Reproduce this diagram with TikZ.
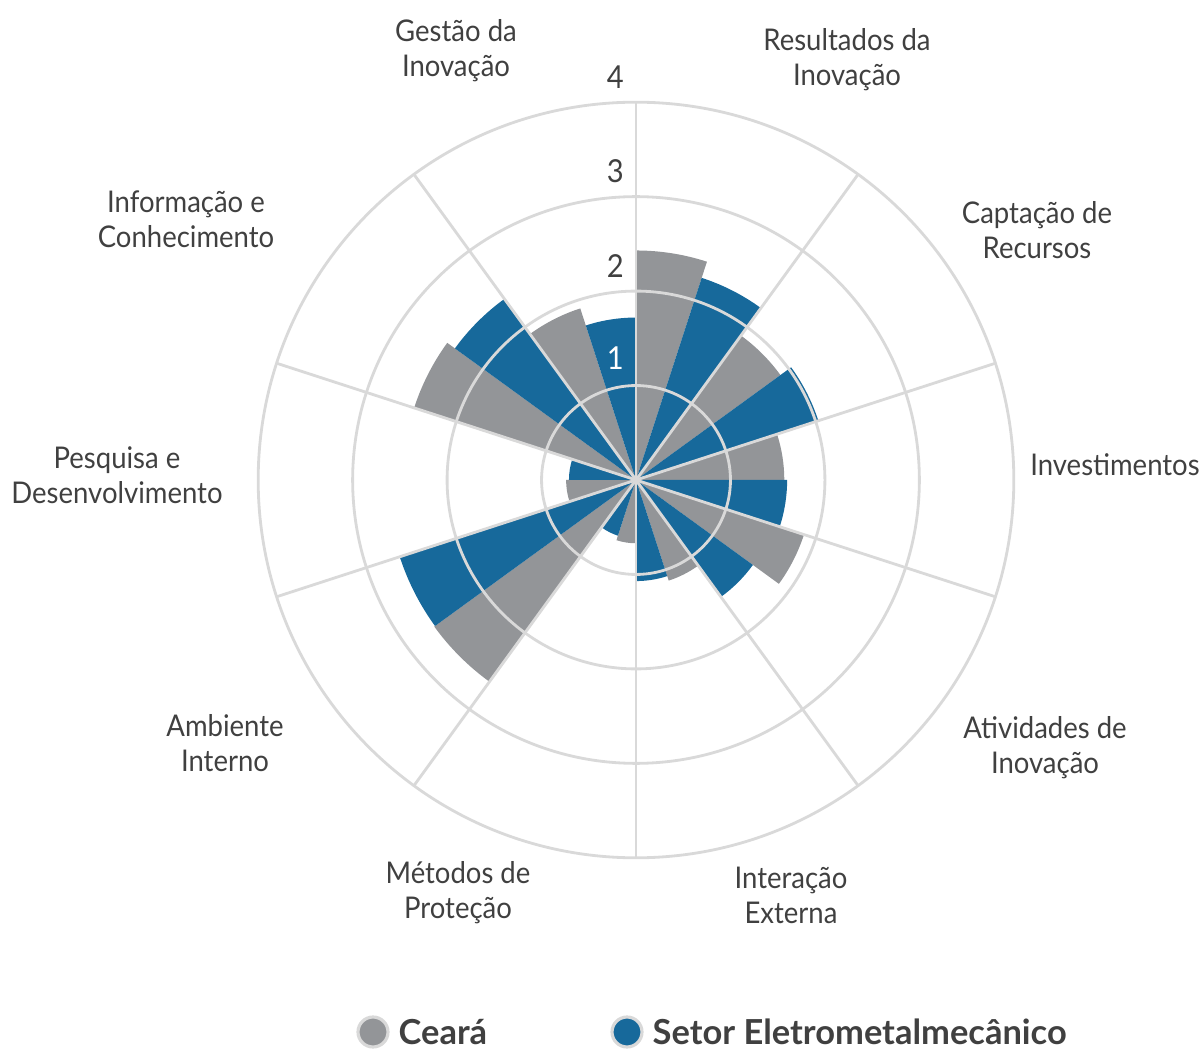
\documentclass[tikz,border=0pt]{standalone}
\usepackage{fontspec}
\setmainfont{Lato}[FakeStretch=0.92]
\newfontfamily\legfont{Lato}
\usepackage{xcolor}
\usetikzlibrary{positioning}

\definecolor{ceara}{HTML}{939598}
\definecolor{setor}{HTML}{17699B}
\definecolor{grade}{HTML}{D9D9D9}
\definecolor{rotulo}{HTML}{404040}

\begin{document}
\begin{tikzpicture}[x=0.01cm,y=0.01cm,
		grid/.style={draw=grade,line width=0.8pt},
		eixo/.style={text=rotulo,align=center,font=\fontsize{8.5}{10}\selectfont},
		escala/.style={text=rotulo,font=\fontsize{9}{10}\selectfont},
		legenda/.style={text=rotulo,anchor=base west,inner sep=0pt,font=\legfont\bfseries\fontsize{9.8}{11}\selectfont}]
	\useasboundingbox (0,0) rectangle (1203,1048);
	\coordinate (c) at (636,568);
	%
	\begin{scope}[shift={(c)},x=0.944cm,y=0.944cm]
		% Ceara / Setor, clockwise from the top
		\foreach \a/\g/\b in {90/2.43/2.25, 54/1.89/2.03, 18/1.57/1.60, -18/1.87/1.53, -54/1.12/1.07,
				-90/0.67/0.62, -126/2.64/2.63, -162/0.74/0.71, 162/2.47/2.37, 126/1.91/1.72}{
			\fill[ceara] (0,0) -- (\a:\g) arc[start angle=\a,delta angle=-18,radius=\g] -- cycle;
			\fill[setor] (0,0) -- (\a-18:\b) arc[start angle=\a-18,delta angle=-18,radius=\b] -- cycle;
		}
		\foreach \r in {1,...,4}
			\draw[grid] (0,0) circle[radius=\r];
		\foreach \a in {90,54,...,-234}
			\draw[grid] (0,0) -- (\a:4);
		%
		\node[escala,text=white] (s1) at (-0.22,1.29) {1};
		\foreach \k in {2,3,4}
			\node[escala] (s\k) at (-0.22,\k+0.27) {\k};
	\end{scope}
	%
	\node[eixo] (gestao) at (456,997) {Gestão da\\Inovação};
	\node[eixo] (resultados) at (847,988) {Resultados da\\Inovação};
	\node[eixo] (captacao) at (1037,818) {Captação de\\Recursos};
	\node[eixo] (investimentos) at (1115,583) {Investimentos};
	\node[eixo] (atividades) at (1045,300) {Atividades de\\Inovação};
	\node[eixo] (interacao) at (791,153) {Interação\\Externa};
	\node[eixo] (metodos) at (458,155) {Métodos de\\Proteção};
	\node[eixo] (ambiente) at (225,305) {Ambiente\\Interno};
	\node[eixo] (pesquisa) at (117,573) {Pesquisa e\\Desenvolvimento};
	\node[eixo] (informacao) at (186,829) {Informação e\\Conhecimento};
	%
	\filldraw[fill=ceara,draw=grade,line width=0.9pt] (373,16) circle[radius=15];
	\node[legenda] (lceara) at (398,4) {Ceará};
	\filldraw[fill=setor,draw=grade,line width=0.9pt] (627,16) circle[radius=15];
	\node[legenda] (lsetor) at (652,4) {Setor Eletrometalmecânico};
\end{tikzpicture}
\end{document}
